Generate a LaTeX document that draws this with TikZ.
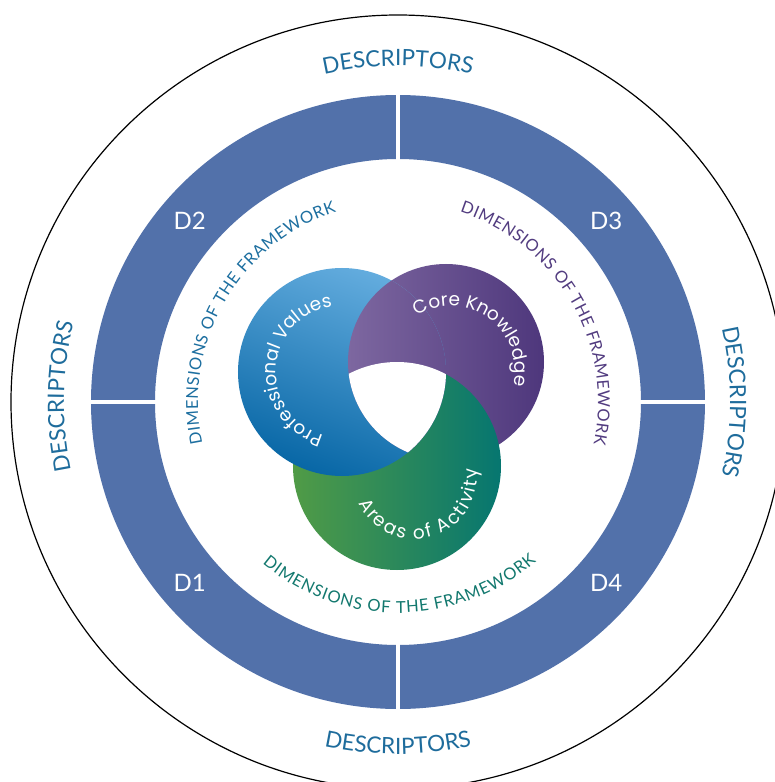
\documentclass[tikz,border=0pt]{standalone}
\usepackage{fontspec}
\usepackage{tikz}
\usetikzlibrary{decorations.text}
\newfontfamily\lato{Lato}
\newfontfamily\venn{Poppins}

\definecolor{ringblue}{RGB}{82,113,170}
\definecolor{descrblue}{RGB}{30,108,156}
\definecolor{dimblue}{RGB}{29,111,160}
\definecolor{dimpurple}{RGB}{82,60,128}
\definecolor{dimgreen}{RGB}{18,120,110}
\definecolor{pvlight}{RGB}{99,172,222}
\definecolor{pvdark}{RGB}{8,103,166}
\definecolor{cklight}{RGB}{125,103,160}
\definecolor{ckdark}{RGB}{78,55,124}
\definecolor{aalight}{RGB}{80,155,70}
\definecolor{aadark}{RGB}{6,118,112}

\begin{document}
\begin{tikzpicture}[x=1pt,y=1pt,
  gap/.style={white,line width=4.5},
  dlabel/.style={white,font=\lato\fontsize{24}{24}\selectfont},
  descr/.style={decorate,decoration={text along path,text align=center,text color=descrblue,
    text={|\lato\fontsize{22.5}{22.5}\selectfont|DESCRIPTORS}}},
  dims/.style={decorate,decoration={text along path,text align={fit to path},text color=#1,
    text={|\lato\fontsize{16.5}{16.5}\selectfont|DIMENSIONS OF THE FRAMEWORK}}},
  venntext/.style={decorate,decoration={text along path,text align=center,text color=white,
    text={|\venn\fontsize{18.5}{18.5}\selectfont|#1}}},
  vennfit/.style={decorate,decoration={text along path,text align={fit to path},text color=white,
    text={|\venn\fontsize{18.5}{18.5}\selectfont|#1}}},
  pvshade/.style={top color=pvlight,bottom color=pvdark,shading angle=-20},
  ckshade/.style={left color=cklight,right color=ckdark},
  aashade/.style={left color=aalight,right color=aadark}]
\useasboundingbox (-398,-380) rectangle (377,402);
\clip (-398,-380) rectangle (377,402);
\fill[white] (-398,-380) rectangle (377,402);

\draw[line width=1.2] (0,0) circle (387);
\fill[ringblue,even odd rule] (0,0) circle (307) (0,0) circle (243);
\foreach \a in {0,90,180,270}
  \draw[gap] (\a:238) -- (\a:312);

\foreach \a/\b/\r in {110/70/336, 20/-20/332, 199/159/334, 250/290/352}{
  \path[descr] (\a:\r) arc[start angle=\a,end angle=\b,radius=\r];
}

\foreach \ang/\lab in {139/D2, 41/D3, 221/D1, 319/D4}{
  \node[dlabel] (\lab) at (\ang:276) {\lab};
}

\path[dims=dimblue] (192:200) arc[start angle=192,end angle=108,radius=200];
\path[dims=dimpurple] (72:200) arc[start angle=72,end angle=-12,radius=200];
\path[dims=dimgreen] (230:211) arc[start angle=230,end angle=311,radius=211];

\coordinate (pv) at (-56,30);
\coordinate (ck) at (48,40);
\coordinate (aa) at (-1,-64);
\shade[ckshade] (ck) circle (98);
\shade[aashade] (aa) circle (104);
\shade[pvshade] (pv) circle (104);
\begin{scope}
  \clip (pv) circle (104);
  \shade[ckshade] (ck) circle (98);
\end{scope}
\begin{scope}
  \clip (pv) circle (104);
  \clip (aa) circle (104);
  \fill[white] (ck) circle (98);
\end{scope}

\path[venntext={Professional Values}] ([shift={(pv)}]286:66) arc[start angle=286,end angle=66,radius=66];
\path[venntext={Core Knowledge}] ([shift={(53,32)}]164:64) arc[start angle=164,end angle=-56,radius=64];
\path[vennfit={Areas of Activity}] ([shift={(17,-75)}]205:62) arc[start angle=205,end angle=368,radius=62];
\end{tikzpicture}
\end{document}
